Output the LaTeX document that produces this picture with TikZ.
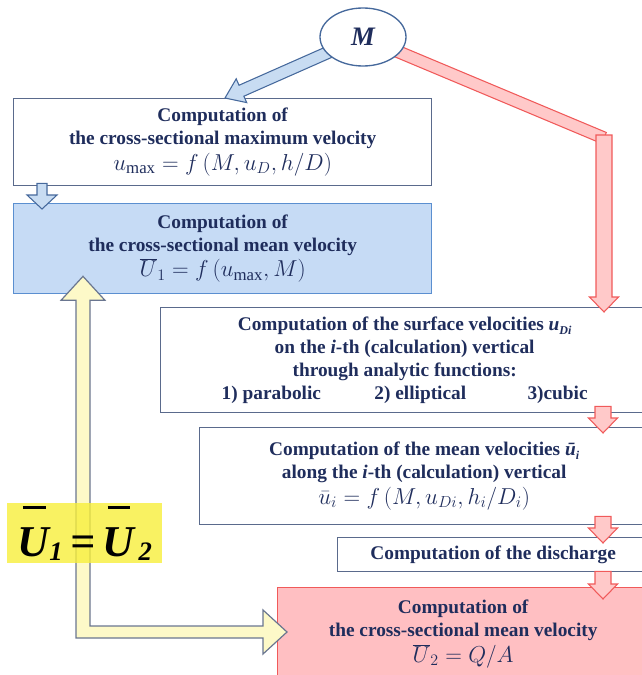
\documentclass[tikz,border=0pt]{standalone}
\usepackage{fontspec}
\setmainfont{Liberation Serif}
\usetikzlibrary{calc}
\usetikzlibrary{shapes}

\definecolor{navy}{HTML}{1F2D5C}
\definecolor{boxline}{HTML}{5A6A8C}
\definecolor{bluefill}{HTML}{C6DBF5}
\definecolor{blueline}{HTML}{5B8FD0}
\definecolor{pinkfill}{HTML}{FFBFC2}
\definecolor{redline}{HTML}{F05A5A}
\definecolor{redarr}{HTML}{FFC9C9}
\definecolor{bluearr}{HTML}{C8DCF2}
\definecolor{bluearrline}{HTML}{46699C}
\definecolor{hilite}{HTML}{F7EF3B}
\definecolor{creamarr}{HTML}{FDF9C8}
\definecolor{creamline}{HTML}{6A7690}

\tikzset{
	box/.style={draw=boxline, line width=1pt, text=navy, align=center,
		anchor=north west, inner sep=0pt,
		font=\fontsize{14.5}{17.25}\selectfont\bfseries},
	bluebox/.style={box, fill=bluefill, draw=blueline},
	pinkbox/.style={box, fill=pinkfill, draw=redline},
	redarrow/.style={fill=redarr, draw=redline, line width=0.8pt, line join=miter},
	bluearrow/.style={fill=bluearr, draw=bluearrline, line width=0.8pt},
	creamarrow/.style={fill=creamarr, draw=creamline, line width=0.9pt}
}

%% block arrow: style, from, to, half shaft, half head, head length
\newcommand\blockarr[6]{%
	\path (#2) coordinate (ba) (#3) coordinate (bb);
	\path ($(bb)!#6!(ba)$) coordinate (bh);
	\draw[#1] ($(ba)!#4!90:(bb)$) -- ($(bh)!#4!-90:(ba)$) -- ($(bh)!#5!-90:(ba)$)
		-- (bb) -- ($(bh)!#5!90:(ba)$) -- ($(bh)!#4!90:(ba)$) -- ($(ba)!#4!-90:(bb)$) -- cycle;
}
\newcommand\frm[1]{{\mdseries\fontsize{18}{20}\selectfont$#1$}}
\newcommand\lowsub[1]{\raisebox{-3pt}{\fontsize{9}{9}\selectfont\textit{#1}}}
%% barred letter for the big equation
\newcommand\barU{\vbox{\moveright4pt\hbox{\vrule height 2pt width 17pt}\kern3pt\hbox{U}}}

\begin{document}
\begin{tikzpicture}[x=0.75pt, y=-0.75pt]
	\useasboundingbox (0,0) rectangle (642,675);
	\clip (0,0) rectangle (642,675);
	%% the boxes
	\node[box, minimum width=313.5pt, minimum height=65.25pt] (umax) at (13,98)
		{Computation of\\the cross-sectional maximum velocity\\[2pt]\frm{u_{\max} = f\left(M, u_D, h/D\right)}};
	\node[bluebox, minimum width=313.5pt, minimum height=67.5pt] (mean1) at (13,203)
		{Computation of\\the cross-sectional mean velocity\\[2pt]\frm{\overline{U}_1 = f\left(u_{\max}, M\right)}};
	\node[box, minimum width=366pt, minimum height=78.75pt] (surf) at (160,307)
		{Computation of the surface velocities \textit{u}\lowsub{Di}\\on the \textit{i}-th (calculation) vertical\\through analytic functions:\\
		1) parabolic\hspace{40pt}2) elliptical\hspace{46pt}3)cubic};
	\node[box, minimum width=336.75pt, minimum height=72.75pt] (umean) at (199,427)
		{Computation of the mean velocities \textit{ū}\lowsub{i}\\along the \textit{i}-th (calculation) vertical\\[2pt]\frm{\bar{u}_i = f\left(M, u_{Di}, h_i/D_i\right)}};
	\node[box, minimum width=233.25pt, minimum height=25.5pt] (disch) at (337,537)
		{Computation of the discharge};
	\node[pinkbox, minimum width=278.25pt, minimum height=69.75pt] (mean2) at (277,587)
		{Computation of\\the cross-sectional mean velocity\\[2pt]\frm{\overline{U}_2 = Q/A}};
	%% Invisibly defining the helper coords
	\path
		(603,0)  coordinate (col)
		(604,138) coordinate (bend)
		(604,135) coordinate (bendtop)
		(363,37) coordinate (mc);
	%% red path on the right
	\draw[redarrow] ($(mc)!4.5pt!90:(bend)$) -- ($(bend)!4.5pt!-90:(mc)$)
		-- ($(bend)!4.5pt!90:(mc)$) -- ($(mc)!4.5pt!-90:(bend)$) -- cycle;
	\blockarr{redarrow}{bendtop}{$(surf.north -| bend)+(0,5)$}{6pt}{10.9pt}{11.25pt}
	\blockarr{redarrow}{$(surf.south -| col)+(0,-7)$}{$(umean.north -| col)+(0,6)$}{6pt}{10.9pt}{11.25pt}
	\blockarr{redarrow}{$(umean.south -| col)+(0,-9)$}{$(disch.north -| col)+(0,6)$}{6pt}{10.9pt}{11.25pt}
	\blockarr{redarrow}{$(disch.south -| col)+(0,-1)$}{$(mean2.north -| col)+(0,12)$}{6pt}{10.9pt}{11.25pt}
	%% blue arrows on the left
	\blockarr{bluearrow}{mc}{$(umax.north west)+(212,0)$}{4.5pt}{9.75pt}{13.5pt}
	\blockarr{bluearrow}{$(umax.south west)+(29,-3)$}{$(mean1.north west)+(29,6)$}{3.75pt}{11.25pt}{10.5pt}
	%% the ellipse
	\node[ellipse, draw=bluearrline, line width=1pt, fill=white, minimum width=64.5pt,
		minimum height=43.5pt, inner sep=0pt, text=navy,
		font=\fontsize{20}{20}\selectfont\bfseries\itshape] (M) at (mc) {M};
	%% the yellow double arrow
	\path
		($(mean1.south west)+(70,-18)$) coordinate (ut)
		($(mean2.north west)+(10,45)$)  coordinate (rt);
	\draw[creamarrow] (ut) -- ++(22,24) -- ++(-15,0) |- ($(rt)+(-24,-6)$) -- ++(0,-16) -- (rt)
		-- ++(-24,22) -- ++(0,-16) -| ($(ut)+(-7,24)$) -- ++(-15,0) -- cycle;
	%% the highlighted equation
	\node[fill=hilite, fill opacity=0.8, text opacity=1, anchor=north west, inner sep=0pt,
		minimum width=116.25pt, minimum height=45pt,
		font=\fontsize{33}{33}\selectfont\bfseries\itshape] (ueq) at (7,503)
		{\barU\raisebox{-3pt}{\fontsize{20}{20}\selectfont 1}\,=\,\barU\raisebox{-3pt}{\fontsize{20}{20}\selectfont\,2}};
\end{tikzpicture}
\end{document}
